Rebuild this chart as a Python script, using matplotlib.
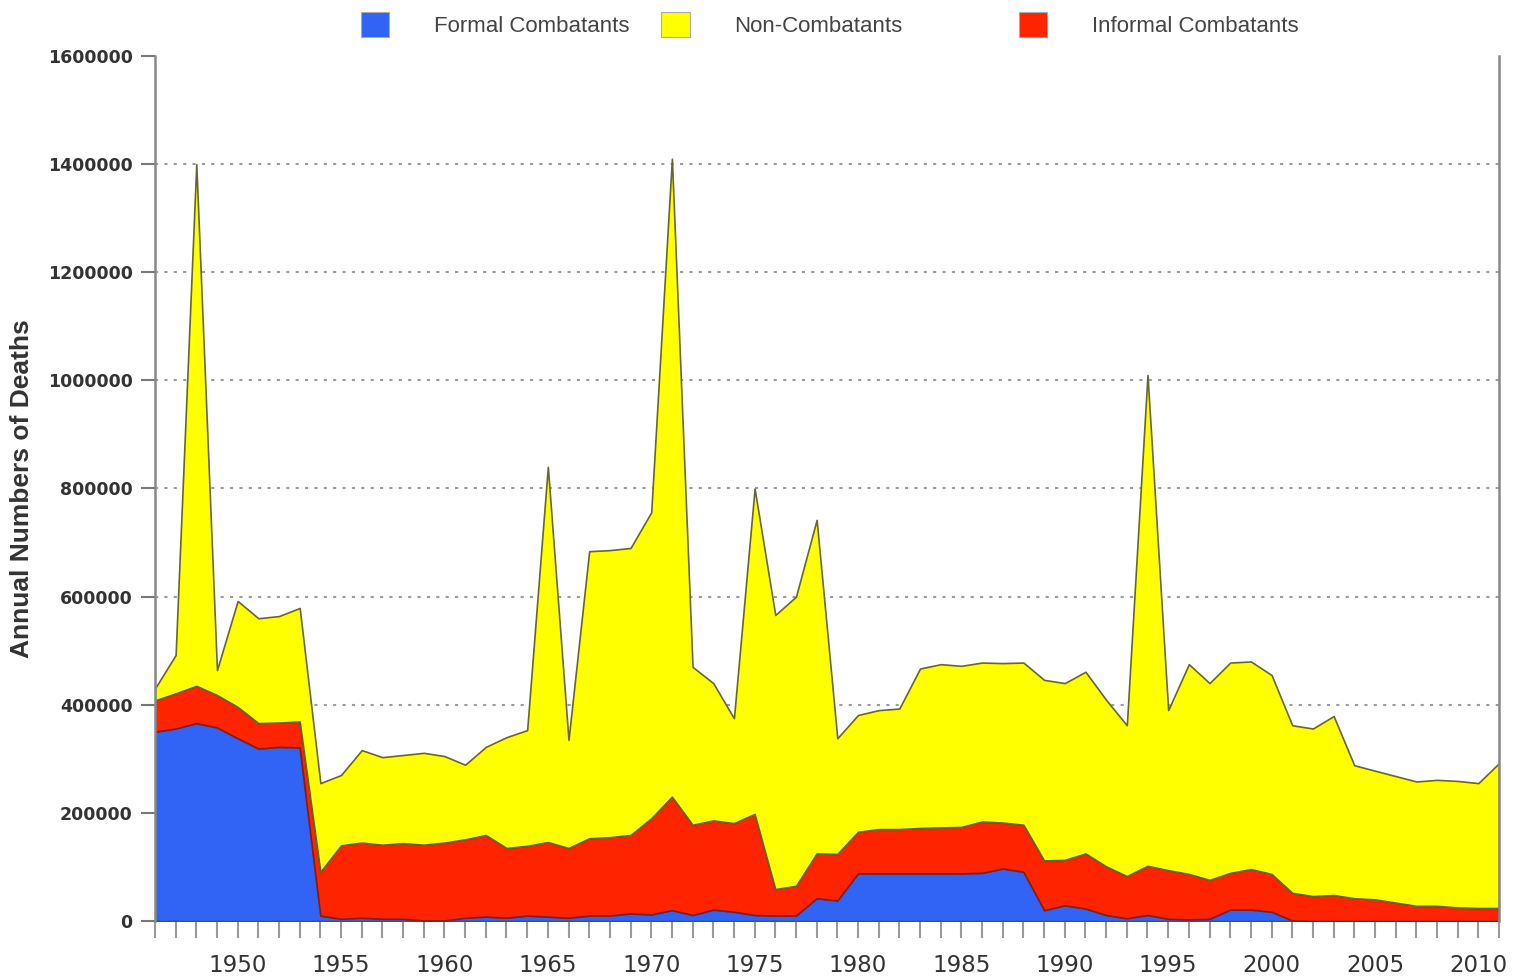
import matplotlib
matplotlib.use("Agg")
import matplotlib.pyplot as plt
from matplotlib.patches import Patch
import numpy as np

plt.rcParams['font.family'] = ['Liberation Sans', 'DejaVu Sans']

years = list(range(1946, 2012))

formal = [350000, 356000, 366000, 358000, 338000, 319000, 322000, 321000, 10000, 4000,
          6000, 4000, 4000, 1000, 1000, 6000, 8000, 6000, 10000, 8000,
          6000, 10000, 10000, 14000, 12000, 20000, 11000, 21000, 17000, 11000,
          10000, 10000, 42000, 38000, 88000, 88000, 88000, 88000, 88000, 88000,
          89000, 97000, 91000, 20000, 29000, 23000, 11000, 5000, 11000, 4000,
          3000, 4000, 21000, 21000, 17000, 1000, 0, 0, 0, 0,
          0, 0, 0, 0, 0, 0]

informal = [58000, 65000, 69000, 60000, 58000, 47000, 45000, 48000, 81000, 136000,
            139000, 137000, 140000, 140000, 144000, 145000, 151000, 129000, 129000, 138000,
            129000, 143000, 145000, 145000, 178000, 210000, 167000, 165000, 164000, 187000,
            49000, 55000, 83000, 86000, 77000, 82000, 82000, 84000, 85000, 86000,
            95000, 85000, 87000, 92000, 84000, 102000, 90000, 78000, 91000, 90000,
            84000, 72000, 68000, 75000, 70000, 51000, 46000, 48000, 42000, 40000,
            34000, 28000, 28000, 25000, 24000, 24000]

non_combatants = [22000, 71000, 965000, 46000, 196000, 194000, 197000, 210000, 164000, 130000,
                  171000, 162000, 163000, 170000, 160000, 138000, 163000, 205000, 214000, 694000,
                  200000, 531000, 531000, 531000, 566000, 1180000, 292000, 254000, 194000, 602000,
                  507000, 535000, 617000, 214000, 216000, 220000, 223000, 295000, 302000, 298000,
                  294000, 295000, 300000, 334000, 327000, 336000, 308000, 279000, 908000, 296000,
                  388000, 364000, 389000, 384000, 368000, 310000, 310000, 331000, 246000, 238000,
                  234000, 230000, 233000, 234000, 231000, 268000]

c_formal = '#3163f5'
c_informal = '#ff2400'
c_non = '#ffff00'

fig = plt.figure(figsize=(15.16, 9.76), dpi=100)
ax = fig.add_axes([0.1022, 0.0564, 0.8866, 0.8862])

polys = ax.stackplot(years, formal, informal, non_combatants,
                     colors=[c_formal, c_informal, c_non], zorder=2)
edges = ['#2a4fb0', '#8a1c05', '#666633']
for p, e in zip(polys, edges):
    p.set_edgecolor(e)
    p.set_linewidth(1.2)

ax.set_xlim(1946, 2011)
ax.set_ylim(0, 1600000)
ax.set_yticks(np.arange(0, 1600001, 200000))
ax.set_yticklabels([str(v) for v in range(0, 1600001, 200000)], fontweight='bold',
                   fontsize=12.5, color='#333333', family='DejaVu Sans')
ax.set_xticks(range(1950, 2011, 5))
ax.set_xticklabels([str(y) for y in range(1950, 2011, 5)], fontsize=16.5,
                   color='#333333', family='DejaVu Sans')
ax.set_xticks(years, minor=True)
ax.tick_params(axis='x', which='both', length=12, width=1.5, color='#999999')
ax.tick_params(axis='x', which='major', pad=12)
ax.tick_params(axis='y', length=10, width=1.5, color='#777777', pad=6)

ax.grid(axis='y', color='#9a9aa6', linestyle=(0, (1.5, 3)), linewidth=1.5, zorder=1)
ax.get_ygridlines()[-1].set_visible(False)
ax.set_axisbelow(True)

for s in ['top', 'bottom']:
    ax.spines[s].set_visible(False)
for s in ['left', 'right']:
    ax.spines[s].set_color('#888888')
    ax.spines[s].set_linewidth(1.8)

ax.set_ylabel('Annual Numbers of Deaths', fontsize=19, fontweight='bold', color='#333333', labelpad=10)

labels = ['Formal Combatants', 'Non-Combatants', 'Informal Combatants']
colors = [c_formal, c_non, c_informal]
xpos = [0.232, 0.430, 0.666]
for lab, col, xp in zip(labels, colors, xpos):
    h = Patch(facecolor=col, edgecolor='#aaaaaa', linewidth=0.8)
    fig.legend([h], [lab], loc='center left', bbox_to_anchor=(xp, 0.975), frameon=False,
               handlelength=1.3, handleheight=1.4, handletextpad=2.0, fontsize=16,
               labelcolor='#444444', borderaxespad=0)

fig.savefig('out.png', dpi=100)
